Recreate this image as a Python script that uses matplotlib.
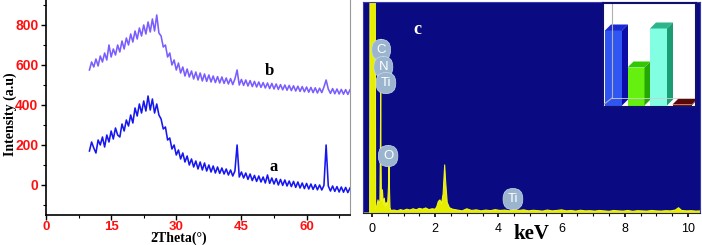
import numpy as np
import matplotlib
matplotlib.use("Agg")
import matplotlib.pyplot as plt
from matplotlib.patches import Polygon

# ---------------- XRD data (2theta from 10 to 70, step 0.5) ----------------
theta_start, theta_step = 10.0, 0.5
xrd_a = [
    170, 215, 185, 160, 225, 200, 240, 190, 250, 215,
    270, 230, 285, 250, 240, 305, 270, 325, 295, 350,
    310, 385, 345, 405, 360, 420, 370, 445, 375, 430,
    360, 405, 350, 330, 280, 290, 225, 235, 180, 200,
    150, 175, 130, 160, 115, 145, 100, 130, 90, 120,
    80, 115, 75, 110, 70, 100, 65, 95, 60, 90,
    58, 85, 55, 80, 50, 75, 45, 70, 200, 40,
    65, 35, 60, 28, 55, 22, 48, 18, 45, 15,
    40, 10, 50, 8, 35, 5, 32, 0, 28, -2,
    25, -5, 20, -8, 18, -12, 15, -15, 10, -18,
    8, -20, 5, -22, 2, -24, 0, -25, -2, 200,
    -5, -30, -5, -32, -8, -35, -10, -36, -12, -38,
    -15,
]
xrd_b = [
    575, 615, 590, 630, 595, 645, 615, 660, 625, 700,
    640, 680, 650, 700, 665, 720, 680, 735, 700, 755,
    715, 770, 730, 785, 745, 800, 755, 815, 765, 830,
    770, 850, 760, 745, 690, 700, 640, 660, 600, 625,
    575, 610, 560, 590, 545, 580, 540, 570, 530, 565,
    525, 560, 520, 555, 518, 550, 515, 545, 512, 542,
    510, 540, 508, 535, 505, 532, 502, 530, 575, 500,
    528, 498, 525, 495, 522, 492, 518, 490, 515, 488,
    512, 485, 510, 482, 508, 480, 505, 478, 502, 476,
    500, 474, 498, 472, 496, 470, 494, 468, 492, 466,
    490, 464, 488, 462, 486, 460, 484, 462, 490, 525,
    480, 458, 482, 456, 480, 455, 478, 454, 477, 453,
    476,
]
assert len(xrd_a) == 121 and len(xrd_b) == 121
xrd_xticks = [0, 15, 30, 45, 60]
xrd_yticks = [0, 200, 400, 600, 800]

# ---------------- EDS spectrum ----------------
eds_energy = [-0.30, -0.075, -0.06, 0.10, 0.115, 0.15, 0.19, 0.22, 0.25, 0.265,
              0.275, 0.285, 0.30, 0.33, 0.36, 0.39, 0.42, 0.45, 0.48, 0.50,
              0.52, 0.54, 0.555, 0.57, 0.60, 0.70, 0.80, 0.90, 1.00, 1.10,
              1.20, 1.30, 1.40, 1.50, 1.60, 1.70, 1.80, 1.90, 2.00, 2.05,
              2.10, 2.15, 2.20, 2.25, 2.30, 2.33, 2.38, 2.45, 2.55, 2.70,
              2.85, 3.00, 3.15, 3.30, 3.45, 3.60, 3.75, 3.90, 4.05, 4.20,
              4.35, 4.50, 4.65, 4.80, 4.95, 5.10, 5.25, 5.40, 5.55, 5.70,
              5.85, 6.00, 6.15, 6.30, 6.45, 6.60, 6.75, 6.90, 7.05, 7.20,
              7.35, 7.50, 7.65, 7.80, 7.95, 8.10, 8.25, 8.40, 8.55, 8.70,
              8.85, 9.00, 9.15, 9.30, 9.45, 9.60, 9.70, 9.80, 9.95, 10.10,
              10.25, 10.40]
eds_counts = [0, 0, 1500, 1500, 20, 30, 62, 40, 60, 300,
              570, 250, 60, 110, 40, 70, 30, 50, 25, 60,
              120, 228, 100, 25, 12, 14, 10, 16, 12, 18,
              14, 20, 15, 22, 18, 24, 16, 20, 18, 30,
              55, 62, 45, 90, 228, 150, 50, 25, 18, 14,
              10, 20, 12, 15, 10, 14, 11, 16, 12, 14,
              10, 18, 12, 15, 10, 13, 11, 9, 14, 10,
              12, 15, 10, 12, 9, 13, 10, 11, 9, 12,
              10, 8, 12, 10, 9, 12, 8, 11, 10, 9,
              12, 10, 9, 11, 10, 14, 25, 12, 10, 11,
              9, 10]
eds_xticks = [0, 2, 4, 6, 8, 10]
peak_labels = ["C", "N", "Ti", "O", "Ti"]
peak_label_x = [0.29, 0.36, 0.44, 0.51, 4.46]
peak_label_y = [773, 692, 616, 270, 66]

# ---------------- inset bar chart ----------------
inset_values = [75, 38, 77, 1]
inset_front = ['#2f55f2', '#66f010', '#82ffe2', '#7a1010']
inset_side = ['#0c0ca8', '#25a805', '#1c9c72', '#4a0505']
inset_top = ['#1a2ad0', '#30c800', '#2cb48a', '#5a0808']

fig = plt.figure(figsize=(7.02, 2.45), dpi=100)

# ======== left panel: XRD ========
ax1 = fig.add_axes([46/702, 1-215/245, (350-46)/702, 215/245])
xa = theta_start + theta_step*np.arange(len(xrd_a))
xb = theta_start + theta_step*np.arange(len(xrd_b))
ax1.plot(xb, xrd_b, color='#7a5cff', lw=1.15)
ax1.plot(xa, xrd_a, color='#1616f0', lw=1.15)
ax1.set_xlim(0, 70)
ax1.set_ylim(-150, 925)
ax1.set_xticks(xrd_xticks)
ax1.set_xticks(np.arange(0, 71, 7.5), minor=True)
ax1.set_yticks(xrd_yticks)
ax1.set_yticks(np.arange(-100, 901, 100), minor=True)
ax1.tick_params(which='major', direction='out', length=3.5, width=1, pad=2,
                labelsize=10, labelcolor='#ff1010')
ax1.tick_params(axis='x', which='major', pad=0.5, labelsize=9.5)
ax1.tick_params(which='minor', direction='out', length=2.5, width=0.8)
for lab in ax1.get_xticklabels() + ax1.get_yticklabels():
    lab.set_fontweight('bold')
    lab.set_family('Liberation Sans')
ax1.spines['top'].set_visible(False)
ax1.spines['right'].set_color('#999999')
ax1.spines['left'].set_linewidth(1.2)
ax1.spines['bottom'].set_linewidth(1.2)
ax1.set_ylabel('Intensity (a.u)', family='Liberation Serif', fontweight='bold',
               fontsize=10)
ax1.yaxis.set_label_coords(-0.097, 0.47)
ax1.set_xlabel('2Theta(\u00b0)', family='Liberation Serif', fontweight='bold',
               fontsize=10)
ax1.xaxis.set_label_coords(0.435, -0.076)
ax1.text(51.5, 570, 'b', family='Liberation Serif', fontweight='bold', fontsize=12,
         ha='center', va='center')
ax1.text(52.5, 90, 'a', family='Liberation Serif', fontweight='bold', fontsize=12,
         ha='center', va='center')

# ======== right panel: EDS ========
ax2 = fig.add_axes([363/702, 1-213/245, (700-363)/702, 211/245])
ax2.set_facecolor('#0a0a82')
ax2.fill_between(eds_energy, eds_counts, 0, color='#e6ee00', lw=0)
ax2.plot(eds_energy, eds_counts, color='#f0f520', lw=0.8)
ax2.set_xlim(-0.285, 10.38)
ax2.set_ylim(0, 1000)
ax2.set_xticks(eds_xticks)
ax2.set_xticks(np.arange(0, 10.5, 0.5), minor=True)
ax2.set_yticks([])
ax2.tick_params(which='major', direction='out', length=3, width=1.2, pad=4,
                labelsize=9)
ax2.tick_params(which='minor', direction='out', length=2, width=0.8)
for lab in ax2.get_xticklabels():
    lab.set_family('Liberation Sans')
for sp in ax2.spines.values():
    sp.set_color('#3a3ab0')
ax2.spines['bottom'].set_color('#202040')
ax2.set_xlabel('keV', family='Liberation Serif', fontweight='bold', fontsize=15,
               labelpad=-8)
ax2.text(1.42, 872, 'c', color='white', family='Liberation Serif', fontweight='bold',
         fontsize=13, ha='center', va='center')
for lab, lx, ly in zip(peak_labels, peak_label_x, peak_label_y):
    ax2.text(lx, ly, lab, color='white', fontsize=9.5, ha='center', va='center',
             family='Liberation Sans',
             bbox=dict(boxstyle='round,pad=0.35,rounding_size=0.75',
                       fc='#9bb5cf', ec='#c8d8e8', lw=0.5))

# ======== inset bar chart ========
ax3 = fig.add_axes([603/702, 1-107/245, 93/702, 104/245])
ax3.set_xlim(0, 93)
ax3.set_ylim(0, 104)
ax3.set_facecolor('white')
ax3.set_xticks([])
ax3.set_yticks([])
for sp in ax3.spines.values():
    sp.set_color('#101070')
    sp.set_linewidth(1.5)
# back wall / floor outline
ax3.plot([9, 9], [9, 104], color='#b0b0b0', lw=0.8)
ax3.plot([0, 9], [2, 9], color='#b0b0b0', lw=0.8)
ax3.plot([9, 93], [9, 9], color='#d0d0d0', lw=0.6)
bw, gap, dx, dy, base = 17, 22.5, 6, 6, 1.5
for i, v in enumerate(inset_values):
    x0 = 2 + i*gap
    w = bw if i < 3 else 19
    ax3.add_patch(Polygon([(x0, base), (x0+w, base), (x0+w, base+v), (x0, base+v)],
                          closed=True, fc=inset_front[i], ec='none'))
    ax3.add_patch(Polygon([(x0+w, base), (x0+w+dx, base+dy), (x0+w+dx, base+v+dy),
                           (x0+w, base+v)], closed=True, fc=inset_side[i], ec='none'))
    ax3.add_patch(Polygon([(x0, base+v), (x0+w, base+v), (x0+w+dx, base+v+dy),
                           (x0+dx, base+v+dy)], closed=True, fc=inset_top[i], ec='none'))

fig.savefig('out.png', dpi=100)
